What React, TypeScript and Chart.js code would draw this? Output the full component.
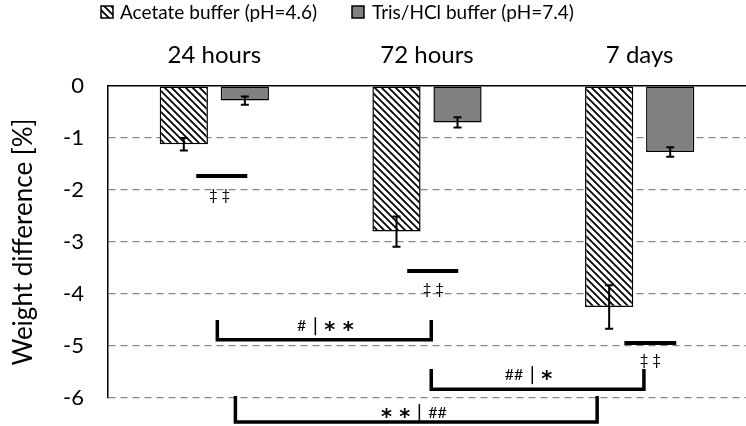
import React, { useEffect, useRef } from 'react';
import { Chart, registerables } from 'chart.js';

Chart.register(...registerables);

const categories = ['24 hours', '72 hours', '7 days'];
const acetateLabel = 'Acetate buffer (pH=4.6)';
const trisLabel = 'Tris/HCl buffer (pH=7.4)';
const acetateValues = [-1.12, -2.8, -4.25];
const acetateErrors = [0.12, 0.29, 0.42];
const trisValues = [-0.28, -0.7, -1.27];
const trisErrors = [0.08, 0.1, 0.09];
const yMin = -6;
const yMax = 0;

// significance lines (x in category units, y in data units)
const sigLineX = [[-0.085, 0.155], [0.907, 1.147], [1.928, 2.172]];
const sigLineY = [-1.73, -3.56, -4.94];
const sigLabelX = [0.025, 1.03, 2.05];
const sigLabelY = [-2.1, -3.9, -5.27];
const sigLabels = ['‡ ‡', '‡ ‡', '‡ ‡'];

// comparison brackets
const bracketX = [[0.014, 1.02], [1.02, 2.02], [0.099, 1.8]];
const bracketBottom = [-4.88, -5.83, -6.46];
const bracketTop = [-4.5, -5.44, -5.96];
const bracketDivX = [0.475, 1.495, 0.964];
const bracketTextY = [-4.62, -5.56, -6.29];
const bracketLeftText = ['#', '##', '**'];
const bracketRightText = ['**', '*', '##'];

const FONT = 'Lato, "Open Sans", sans-serif';

function makeHatch(): CanvasPattern | string {
  const s = 7;
  const c = document.createElement('canvas');
  c.width = s;
  c.height = s;
  const g = c.getContext('2d');
  if (!g) return '#fff';
  g.fillStyle = '#fff';
  g.fillRect(0, 0, s, s);
  g.strokeStyle = '#000';
  g.lineWidth = 1.8;
  g.beginPath();
  for (const k of [-s, 0, s]) {
    g.moveTo(k - 1, -1);
    g.lineTo(k + s + 1, s + 1);
  }
  g.stroke();
  const p = g.createPattern(c, 'repeat');
  return p || '#fff';
}

function drawMark(ctx: CanvasRenderingContext2D, text: string, x: number, y: number) {
  if (text.includes('*')) {
    ctx.font = 'bold 21px "DejaVu Sans", sans-serif';
    ctx.fillText(text.split('').join(' '), x, y + 5);
  } else {
    ctx.font = '16px ' + FONT;
    ctx.fillText(text, x, y);
  }
}

export default function App() {
  const ref = useRef<HTMLCanvasElement | null>(null);

  useEffect(() => {
    document.body.style.margin = '0';
    const canvas = ref.current;
    if (!canvas) return;
    const hatch = makeHatch();

    const overlay = {
      id: 'overlay',
      afterDatasetsDraw(chart: any) {
        const ctx = chart.ctx;
        const ys = chart.scales.y;
        const errs = [acetateErrors, trisErrors];
        ctx.save();
        ctx.strokeStyle = '#000';
        ctx.lineWidth = 2;
        chart.data.datasets.forEach((ds: any, di: number) => {
          const meta = chart.getDatasetMeta(di);
          meta.data.forEach((el: any, i: number) => {
            const v = ds.data[i];
            const e = errs[di][i];
            const yTop = ys.getPixelForValue(v + e);
            const yBot = ys.getPixelForValue(v - e);
            const x = el.x;
            ctx.beginPath();
            ctx.moveTo(x, yTop);
            ctx.lineTo(x, yBot);
            ctx.moveTo(x - 4, yTop);
            ctx.lineTo(x + 4, yTop);
            ctx.moveTo(x - 4, yBot);
            ctx.lineTo(x + 4, yBot);
            ctx.stroke();
          });
        });
        ctx.restore();
      },
      afterDraw(chart: any) {
        const ctx = chart.ctx;
        const xs = chart.scales.x;
        const ys = chart.scales.y;
        const x0 = xs.getPixelForValue(0);
        const unit = xs.getPixelForValue(1) - x0;
        const px = (u: number) => x0 + u * unit;
        ctx.save();
        ctx.strokeStyle = '#000';
        ctx.fillStyle = '#000';
        // significance lines
        ctx.lineWidth = 4;
        sigLineY.forEach((y, i) => {
          const py = ys.getPixelForValue(y);
          ctx.beginPath();
          ctx.moveTo(px(sigLineX[i][0]), py);
          ctx.lineTo(px(sigLineX[i][1]), py);
          ctx.stroke();
        });
        ctx.font = '15px ' + FONT;
        ctx.textAlign = 'center';
        ctx.textBaseline = 'middle';
        sigLabels.forEach((t, i) => {
          ctx.fillText(t, px(sigLabelX[i]), ys.getPixelForValue(sigLabelY[i]));
        });
        // brackets
        ctx.lineWidth = 3.5;
        ctx.lineJoin = 'miter';
        bracketX.forEach((bx, i) => {
          const l = px(bx[0]);
          const r = px(bx[1]);
          const b = ys.getPixelForValue(bracketBottom[i]);
          const t = ys.getPixelForValue(bracketTop[i]);
          ctx.beginPath();
          ctx.moveTo(l, t);
          ctx.lineTo(l, b);
          ctx.lineTo(r, b);
          ctx.lineTo(r, t);
          ctx.stroke();
          const dx = px(bracketDivX[i]);
          const ty = ys.getPixelForValue(bracketTextY[i]);
          ctx.textBaseline = 'middle';
          ctx.textAlign = 'right';
          drawMark(ctx, bracketLeftText[i], dx - 9, ty);
          ctx.textAlign = 'left';
          drawMark(ctx, bracketRightText[i], dx + 9, ty);
          ctx.lineWidth = 1.5;
          ctx.beginPath();
          ctx.moveTo(dx, ty - 9);
          ctx.lineTo(dx, ty + 9);
          ctx.stroke();
          ctx.lineWidth = 3.5;
        });
        // legend
        const items = chart.data.datasets;
        const boxX = [101, 352];
        const textX = [120, 372];
        ctx.font = '19px ' + FONT;
        ctx.textAlign = 'left';
        ctx.textBaseline = 'middle';
        items.forEach((ds: any, i: number) => {
          ctx.fillStyle = ds.backgroundColor;
          ctx.fillRect(boxX[i], 6, 12, 12);
          ctx.lineWidth = 1.5;
          ctx.strokeStyle = '#000';
          ctx.strokeRect(boxX[i], 6, 12, 12);
          ctx.fillStyle = '#000';
          ctx.fillText(ds.label, textX[i], 13);
        });
        ctx.restore();
      },
    };

    const chart = new Chart(canvas, {
      type: 'bar',
      data: {
        labels: categories,
        datasets: [
          {
            label: acetateLabel,
            data: acetateValues,
            backgroundColor: hatch as any,
            borderColor: '#000',
            borderWidth: 1.5,
            borderSkipped: false,
            categoryPercentage: 0.574,
            barPercentage: 0.79,
          },
          {
            label: trisLabel,
            data: trisValues,
            backgroundColor: '#808080',
            borderColor: '#000',
            borderWidth: 1.5,
            borderSkipped: false,
            categoryPercentage: 0.574,
            barPercentage: 0.79,
          },
        ],
      },
      options: {
        responsive: false,
        animation: false,
        devicePixelRatio: 1,
        layout: { padding: { top: 30, left: 0, right: 0, bottom: 28 } },
        plugins: {
          legend: { display: false },
          tooltip: { enabled: false },
        },
        scales: {
          x: {
            type: 'category',
            position: 'top',
            grid: { display: false, drawTicks: false },
            border: { display: true, color: '#000', width: 1.5 },
            ticks: {
              color: '#000',
              font: { family: FONT, size: 24 },
              padding: 16,
            },
            afterFit(scale: any) {
              scale.height = 56;
            },
          },
          y: {
            min: yMin,
            max: yMax,
            ticks: {
              stepSize: 1,
              color: '#000',
              font: { family: FONT, size: 22 },
              padding: 24,
            },
            grid: {
              drawTicks: false,
              lineWidth: 1.2,
              color: (c: any) => (c.tick && c.tick.value === 0 ? 'rgba(0,0,0,0)' : '#888'),
            },
            border: { display: true, color: '#000', width: 1.5, dash: [7, 5] },
            title: {
              display: true,
              text: 'Weight difference [%]',
              color: '#000',
              font: { family: FONT, size: 26 },
              padding: { top: 8, bottom: 0 },
            },
            afterFit(scale: any) {
              scale.width = 108;
              scale.paddingTop = 0;
              scale.paddingBottom = 0;
            },
          },
        },
      },
      plugins: [overlay],
    });
    return () => chart.destroy();
  }, []);

  return (
    <div style={{ width: 746, height: 426 }}>
      <canvas ref={ref} width={746} height={426} style={{ display: 'block' }} />
    </div>
  );
}
